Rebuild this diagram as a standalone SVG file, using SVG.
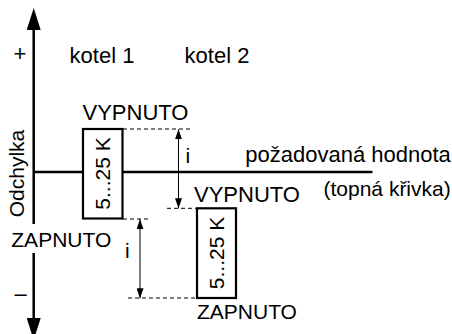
<svg xmlns="http://www.w3.org/2000/svg" width="452" height="334" viewBox="0 0 452 334">
<style>
text{font-family:"Liberation Sans",Arial,sans-serif;font-size:21px;fill:#000}
.wide{font-size:22px}
.ax{stroke:#000;stroke-width:2.5;fill:none}
.box{fill:#fff;stroke:#000;stroke-width:2.2}
.dash{stroke:#000;stroke-width:1;stroke-dasharray:4 3;fill:none}
.dim{stroke:#000;stroke-width:1;fill:none;marker-start:url(#ah);marker-end:url(#ah)}
</style>
<defs>
<marker id="big" markerUnits="userSpaceOnUse" markerWidth="22" markerHeight="14" refX="0" refY="7" orient="auto" viewBox="0 0 22 14"><path d="M0,0 L22,7 L0,14 z" fill="#000"/></marker>
<marker id="ah" markerUnits="userSpaceOnUse" markerWidth="10" markerHeight="7" refX="10" refY="3.5" orient="auto-start-reverse" viewBox="0 0 10 7"><path d="M0,0 L10,3.5 L0,7 z" fill="#000"/></marker>
</defs>
<rect width="452" height="334" fill="#fff"/>
<g id="axis">
<line class="ax" x1="33.7" y1="224" x2="33.7" y2="30" marker-end="url(#big)"/>
<line class="ax" x1="33.7" y1="253" x2="33.7" y2="318" marker-end="url(#big)"/>
<line class="ax" x1="33.7" y1="172" x2="372.5" y2="172"/>
<text x="20" y="61" text-anchor="middle" style="font-size:22px">+</text>
<text x="20.5" y="301" text-anchor="middle" style="font-size:22px">–</text>
<text transform="translate(24,173.5) rotate(-90)" text-anchor="middle">Odchylka</text>
</g>
<g id="labels">
<text x="69.6" y="63.3" class="wide">kotel 1</text>
<text x="184.6" y="63.3" class="wide">kotel 2</text>
<text x="245.3" y="161.5" class="wide">požadovaná hodnota</text>
<text x="323.5" y="196">(topná křivka)</text>
</g>
<g id="kotel1">
<rect class="box" x="83" y="129" width="39.5" height="89.5"/>
<text transform="translate(110,173.5) rotate(-90)" text-anchor="middle">5...25 K</text>
<text x="82.5" y="120" class="wide">VYPNUTO</text>
<text x="11.3" y="246.7">ZAPNUTO</text>
</g>
<g id="kotel2">
<rect class="box" x="197" y="208.3" width="39" height="89.7"/>
<text transform="translate(223.5,253) rotate(-90)" text-anchor="middle">5...25 K</text>
<text x="194" y="202.3" class="wide">VYPNUTO</text>
<text x="197" y="319.3">ZAPNUTO</text>
</g>
<g id="connectors">
<line class="dash" x1="123" y1="129" x2="193" y2="129"/>
<line class="dash" x1="123" y1="219" x2="150" y2="219"/>
<line class="dash" x1="167" y1="208.3" x2="197" y2="208.3"/>
<line class="dash" x1="128" y1="298" x2="197" y2="298"/>
<line class="dim" x1="178.5" y1="129.3" x2="178.5" y2="208.3"/>
<line class="dim" x1="140" y1="219.3" x2="140" y2="298.3"/>
<text x="185.5" y="162.5">i</text>
<text x="125" y="258">i</text>
</g>
</svg>
